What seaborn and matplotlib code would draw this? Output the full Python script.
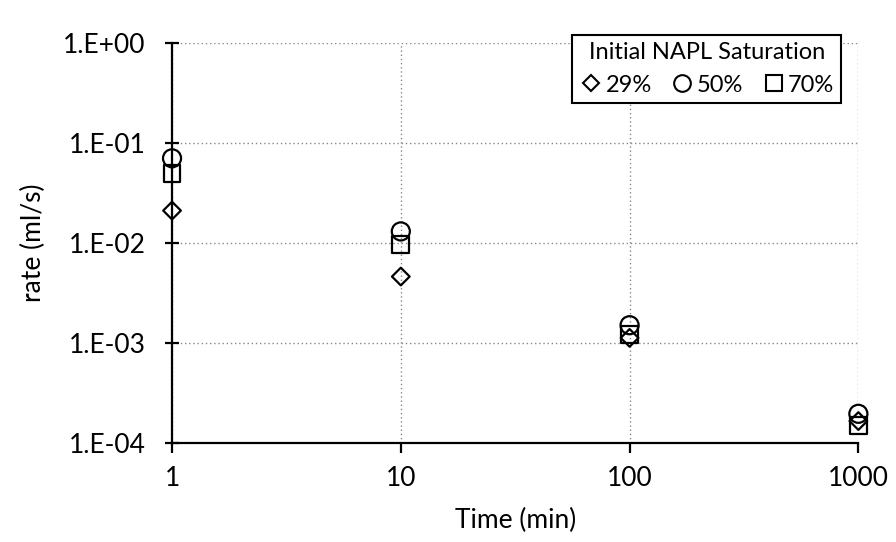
import pandas as pd
import matplotlib
matplotlib.use("Agg")
import matplotlib.pyplot as plt
from matplotlib.lines import Line2D
from matplotlib.ticker import FixedLocator, FuncFormatter, NullLocator
import seaborn as sns

# values
times = [1, 10, 100, 1000]
rate_29 = [0.021, 0.0046, 0.00112, 0.000165]
rate_50 = [0.070, 0.0130, 0.00150, 0.000195]
rate_70 = [0.049, 0.0096, 0.00122, 0.000150]
sat_labels = ["29%", "50%", "70%"]
y_ticks = [1e-4, 1e-3, 1e-2, 1e-1, 1e0]
x_ticks = [1, 10, 100, 1000]

df = pd.DataFrame({
    "time": times * 3,
    "rate": rate_29 + rate_50 + rate_70,
    "sat": [sat_labels[0]] * 4 + [sat_labels[1]] * 4 + [sat_labels[2]] * 4,
})

sns.set_style("white")
plt.rcParams["font.family"] = ["Lato", "DejaVu Sans"]
plt.rcParams["text.color"] = "black"
plt.rcParams["axes.labelcolor"] = "black"
plt.rcParams["xtick.color"] = "black"
plt.rcParams["ytick.color"] = "black"

fig = plt.figure(figsize=(8.96, 5.42), dpi=100)
ax = fig.add_axes([0.192, 0.183, 0.766, 0.738])

markers = {"29%": "D", "50%": "o", "70%": "s"}
sizes = {"29%": 9, "50%": 13, "70%": 12}
for lab in sat_labels:
    sub = df[df["sat"] == lab]
    sns.scatterplot(data=sub, x="time", y="rate", marker=markers[lab],
                    s=sizes[lab] ** 2, facecolor="none", edgecolor="black",
                    linewidth=1.6, ax=ax, zorder=3, clip_on=False)

ax.set_xscale("log")
ax.set_yscale("log")
ax.set_xlim(1, 1000)
ax.set_ylim(1e-4, 1)
ax.xaxis.set_major_locator(FixedLocator(x_ticks))
ax.xaxis.set_minor_locator(NullLocator())
ax.yaxis.set_major_locator(FixedLocator(y_ticks))
ax.yaxis.set_minor_locator(NullLocator())
ax.xaxis.set_major_formatter(FuncFormatter(lambda v, p: f"{v:g}"))
ax.yaxis.set_major_formatter(FuncFormatter(lambda v, p: "1.E" + f"{v:.0E}".split("E")[1]))

ax.grid(True, which="major", color="#888888", linestyle=(0, (1, 2)), linewidth=1)
for s in ["top", "right"]:
    ax.spines[s].set_visible(False)
for s in ["left", "bottom"]:
    ax.spines[s].set_color("black")
    ax.spines[s].set_linewidth(1.6)
ax.tick_params(axis="x", direction="out", length=7, width=1.6, labelsize=19, pad=10, bottom=True)
ax.tick_params(axis="y", direction="inout", length=10, width=1.6, labelsize=19, pad=14, left=True)

ax.set_xlabel("Time (min)", fontsize=19, labelpad=12)
ax.set_ylabel("rate (ml/s)", fontsize=19, labelpad=12)

handles = [Line2D([], [], marker=markers[l], linestyle="none", markerfacecolor="none",
                  markeredgecolor="black", markeredgewidth=1.5, markersize=sizes[l] - 1)
           for l in sat_labels]
leg = ax.legend(handles, sat_labels, title="Initial NAPL Saturation", ncol=3,
                loc="upper right", bbox_to_anchor=(0.975, 1.02), fontsize=17,
                title_fontsize=17, frameon=True, fancybox=False, framealpha=1,
                edgecolor="black", handletextpad=0.1, columnspacing=0.8,
                handlelength=1.0, borderaxespad=0.0, borderpad=0.3)
leg.get_frame().set_linewidth(1.5)

fig.savefig("out.png", dpi=100)
